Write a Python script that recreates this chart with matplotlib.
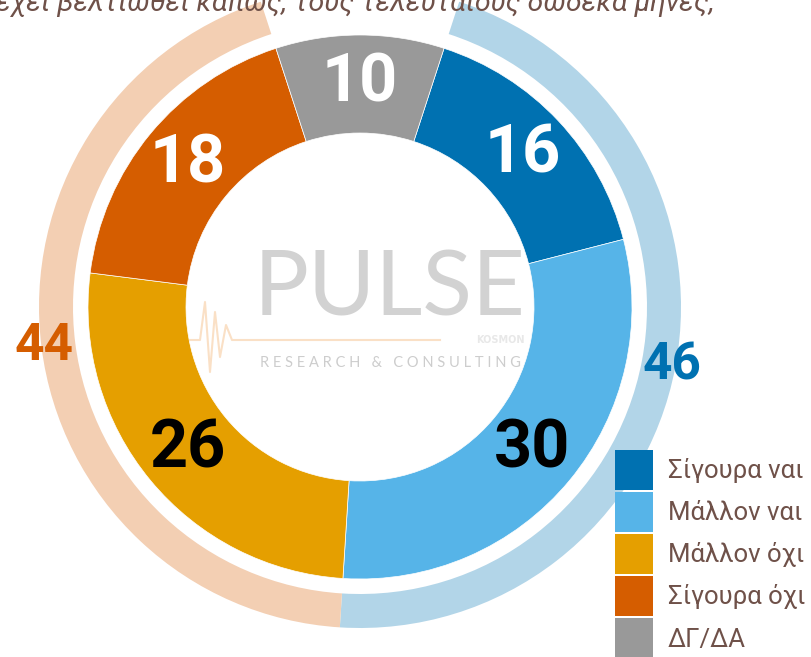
import numpy as np
import matplotlib.pyplot as plt
from matplotlib.patches import Patch

# dane z wykresu
categories = ['Σίγουρα ναι', 'Μάλλον ναι', 'Μάλλον όχι', 'Σίγουρα όχι', 'ΔΓ/ΔΑ']
values = [16, 30, 26, 18, 10]
colors = ['#0071B1', '#56B4E8', '#E59F00', '#D55D00', '#999999']
label_colors = ['white', 'black', 'black', 'white', 'white']

groups = [46, 44, 10]          # ναι / όχι / ΔΓ-ΔΑ
group_colors = ['#B2D5E8', '#F3CFB3', 'none']
group_text_colors = ['#0071B1', '#D55D00']

title = 'έχει βελτιωθεί κάπως, τους τελευταίους δώδεκα μήνες;'
brown = '#6F5149'

fig = plt.figure(figsize=(8.12, 6.57), dpi=100)
ax = fig.add_axes([0, 0, 1, 1])

cx, cy = 360, 350
r_in_out = 272
w_in = 98
r_ring = 321
w_ring = 34

# wewnętrzny pierścień
wedges, _ = ax.pie(values, colors=colors, radius=r_in_out, center=(cx, cy),
                   startangle=72, counterclock=False, frame=True,
                   wedgeprops=dict(width=w_in, edgecolor='white', linewidth=0.5))
# zewnętrzny pierścień
ring, _ = ax.pie(groups, colors=group_colors, radius=r_ring, center=(cx, cy),
                 startangle=72, counterclock=False, frame=True,
                 wedgeprops=dict(width=w_ring, linewidth=0))
ax.set_xlim(0, 812)
ax.set_ylim(0, 657)
ax.set_aspect('equal')
ax.axis('off')

# etykiety w środku segmentów
rmid = r_in_out - w_in / 2
for w, v, c in zip(wedges, values, label_colors):
    ang = np.deg2rad((w.theta1 + w.theta2) / 2)
    ax.text(cx + rmid * np.cos(ang), cy + rmid * np.sin(ang), str(v),
            ha='center', va='center', color=c, fontsize=48, fontweight='bold',
            family=['Roboto', 'DejaVu Sans'])

for w, v, c in zip(ring[:2], groups[:2], group_text_colors):
    ang = np.deg2rad((w.theta1 + w.theta2) / 2)
    ax.text(cx + 318 * np.cos(ang), cy + 318 * np.sin(ang) + 1, str(v),
            ha='center', va='center', color=c, fontsize=37, fontweight='bold',
            family=['Roboto', 'DejaVu Sans'])

# znak wodny PULSE
ax.text(390, 367, 'PULSE', ha='center', va='center', color='#D2D2D2',
        fontsize=66, fontweight='normal', family=['Lato', 'DejaVu Sans'])
ax.text(525, 317, 'KOSMON', ha='right', va='center', color='#E8E8E8',
        fontsize=7, fontweight='bold')
ax.text(390, 294, 'R E S E A R C H   &   C O N S U L T I N G', ha='center',
        va='center', color='#CDCDCD', fontsize=10.5, family=['Lato', 'DejaVu Sans'])
hb_x = [190, 200, 205, 210, 215, 220, 226, 232, 238, 440]
hb_y = [317, 317, 355, 285, 345, 300, 332, 317, 317, 317]
ax.plot(hb_x, hb_y, color='#FAE0C6', lw=1.5)

# tytuł (ucięty u góry, jak w oryginale)
ax.text(-4, 646, title, ha='left', va='baseline', color=brown, fontsize=20.5,
        style='italic', family=['Roboto', 'DejaVu Sans'])

# legenda
handles = [Patch(facecolor=c, edgecolor='none') for c in colors]
fig.legend(handles, categories, loc='upper left',
           bbox_to_anchor=(615 / 812, 1 - 450 / 657), frameon=False,
           handlelength=1.48, handleheight=2.02, labelspacing=0.08,
           handletextpad=0.58, borderpad=0, borderaxespad=0, labelcolor=brown,
           prop=dict(family=['Roboto', 'DejaVu Sans'], size=18.5))

fig.savefig('out.png', dpi=100)
